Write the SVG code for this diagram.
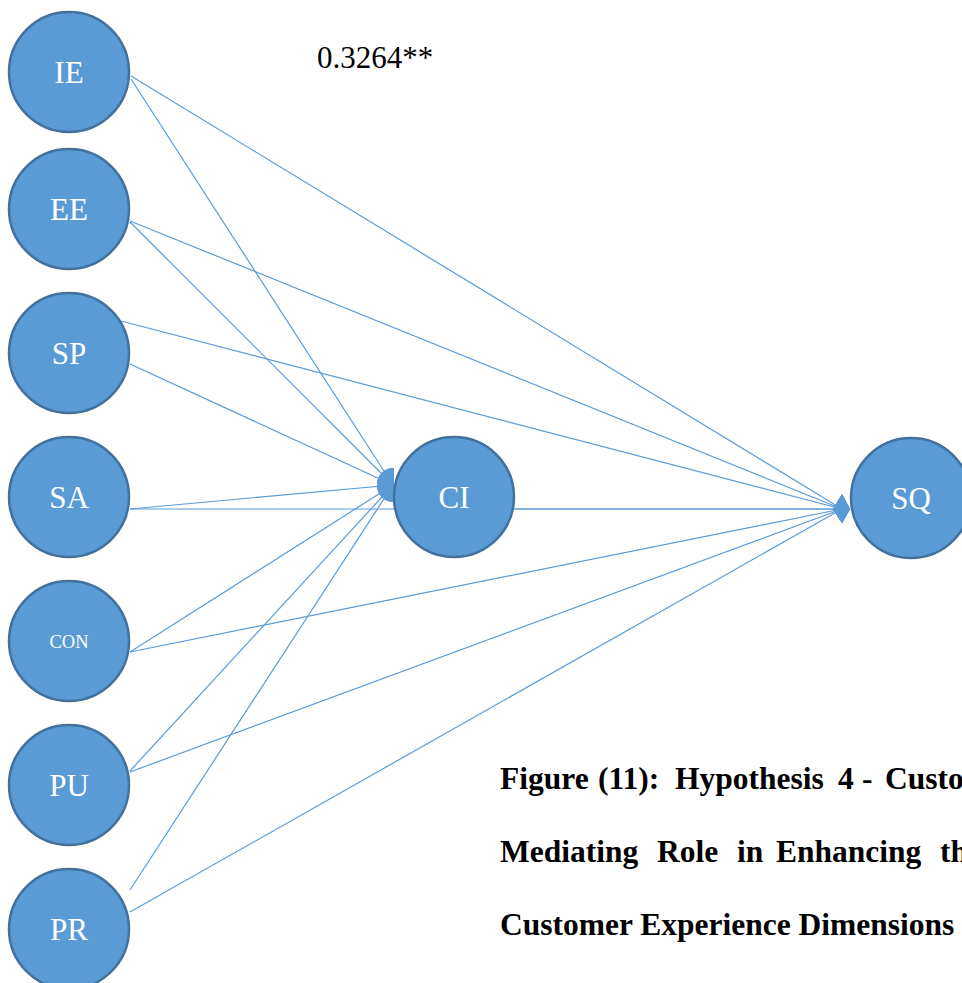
<svg xmlns="http://www.w3.org/2000/svg" width="962" height="983" viewBox="0 0 962 983">
  <style>
    text { font-family: 'Liberation Serif', 'DejaVu Serif', serif; }
    .node { fill: #5b9bd5; stroke: #41719c; stroke-width: 2.5; }
    .lbl { font-size: 31px; fill: #ffffff; text-anchor: middle; }
    .lbl-sm { font-size: 18.5px; }
    .edge { stroke: #5b9bd5; stroke-width: 1.2; fill: none; }
    .to-ci { marker-end: url(#dome); }
    .to-sq { marker-end: url(#diamond); }
    .coef { font-size: 31px; fill: #000000; }
    .cap { font-size: 31.5px; font-weight: bold; fill: #000000; }
  </style>
  <defs>
    <!-- fixed-orientation heads so that converging ends stack into one shape -->
    <marker id="dome" markerUnits="userSpaceOnUse" orient="0" refX="0" refY="0" markerWidth="40" markerHeight="40" overflow="visible">
      <path d="M1,-17 A17,17 0 0 0 1,17 Z" fill="#5b9bd5"/>
    </marker>
    <marker id="diamond" markerUnits="userSpaceOnUse" orient="0" refX="0" refY="0" markerWidth="40" markerHeight="40" overflow="visible">
      <path d="M-9,0 L0,-14.5 L8,0 L0,14 Z" fill="#5b9bd5"/>
    </marker>
  </defs>

  <g id="connectors">
    <!-- paths into CI -->
    <line class="edge to-ci" x1="131" y1="79" x2="393" y2="485"/>
    <line class="edge to-ci" x1="130" y1="222" x2="393" y2="485"/>
    <line class="edge to-ci" x1="130" y1="364" x2="393" y2="485"/>
    <line class="edge to-ci" x1="130" y1="509" x2="393" y2="485"/>
    <line class="edge to-ci" x1="130" y1="652" x2="393" y2="485"/>
    <line class="edge to-ci" x1="130" y1="771" x2="393" y2="485"/>
    <line class="edge to-ci" x1="130" y1="890" x2="393" y2="485"/>
    <!-- paths into SQ -->
    <line class="edge to-sq" x1="131" y1="76" x2="842" y2="509"/>
    <line class="edge to-sq" x1="130" y1="221" x2="842" y2="509"/>
    <line class="edge to-sq" x1="121" y1="321" x2="842" y2="509"/>
    <line class="edge to-sq" x1="130" y1="509" x2="842" y2="509"/>
    <line class="edge to-sq" x1="130" y1="652" x2="842" y2="509"/>
    <line class="edge to-sq" x1="130" y1="772" x2="842" y2="509"/>
    <line class="edge to-sq" x1="130" y1="912" x2="842" y2="509"/>
    <line class="edge to-sq" x1="515" y1="509" x2="842" y2="509"/>
  </g>

  <g id="IE"><circle class="node" cx="69" cy="72" r="60"/><text class="lbl" x="69" y="83">IE</text></g>
  <g id="EE"><circle class="node" cx="69" cy="209" r="60"/><text class="lbl" x="69" y="220">EE</text></g>
  <g id="SP"><circle class="node" cx="69" cy="353" r="60"/><text class="lbl" x="69" y="364">SP</text></g>
  <g id="SA"><circle class="node" cx="69" cy="497" r="60"/><text class="lbl" x="69" y="508">SA</text></g>
  <g id="CON"><circle class="node" cx="69" cy="641" r="60"/><text class="lbl lbl-sm" x="69" y="648">CON</text></g>
  <g id="PU"><circle class="node" cx="69" cy="785" r="60"/><text class="lbl" x="69" y="796">PU</text></g>
  <g id="PR"><circle class="node" cx="69" cy="929" r="60"/><text class="lbl" x="69" y="940">PR</text></g>
  <g id="CI"><circle class="node" cx="454" cy="497" r="60"/><text class="lbl" x="454" y="508">CI</text></g>
  <g id="SQ"><circle class="node" cx="911" cy="498" r="60"/><text class="lbl" x="911" y="509">SQ</text></g>

  <text class="coef" x="317" y="68">0.3264**</text>

  <g id="caption">
    <text class="cap" y="789"><tspan x="500">Figure</tspan><tspan x="598">(11):</tspan><tspan x="675">Hypothesis</tspan><tspan x="838">4</tspan><tspan x="862">-</tspan><tspan x="885">Custo</tspan></text>
    <text class="cap" y="862"><tspan x="500">Mediating</tspan><tspan x="657">Role</tspan><tspan x="737">in</tspan><tspan x="776">Enhancing</tspan><tspan x="940">th</tspan></text>
    <text class="cap" x="500" y="935">Customer Experience Dimensions</text>
  </g>
</svg>
